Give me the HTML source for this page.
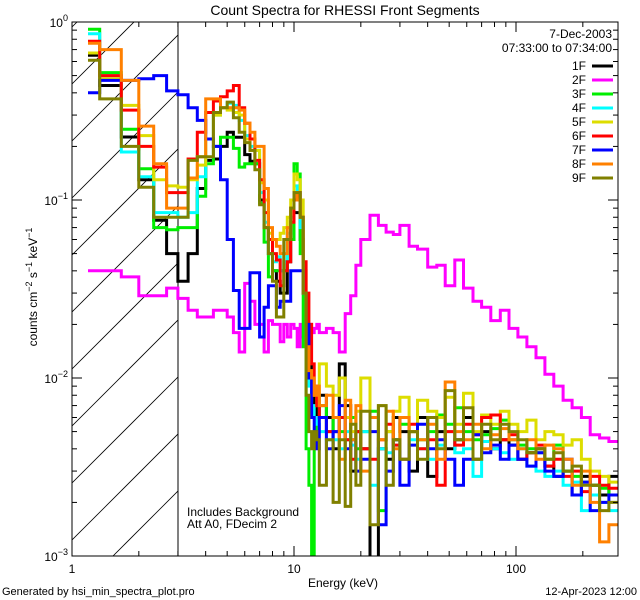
<!DOCTYPE html>
<html><head><meta charset="utf-8">
<style>
html,body{margin:0;padding:0;background:#fff;}
svg{display:block;font-family:"Liberation Sans",sans-serif;}
</style></head>
<body>
<svg id="chart" width="640" height="600" viewBox="0 0 640 600" xmlns="http://www.w3.org/2000/svg">
<defs><clipPath id="plotclip"><rect x="72" y="22" width="546" height="534"/></clipPath></defs>
<rect x="0" y="0" width="640" height="600" fill="#fff"/>
<text x="345" y="15" font-size="14" text-anchor="middle">Count Spectra for RHESSI Front Segments</text>
<g id="hatch" clip-path="url(#plotclip)"></g>
<line x1="178" y1="22" x2="178" y2="556" stroke="#000" stroke-width="1"/>
<g id="series" clip-path="url(#plotclip)"></g>
<g id="axes"></g>
<rect x="72" y="22" width="546" height="534" fill="none" stroke="#000" stroke-width="1"/>
<text transform="translate(37,287) rotate(-90)" font-size="12" text-anchor="middle">counts cm<tspan dy="-5" font-size="9">−2</tspan><tspan dy="5"> s</tspan><tspan dy="-5" font-size="9">−1</tspan><tspan dy="5"> keV</tspan><tspan dy="-5" font-size="9">−1</tspan></text>
<text x="343" y="587" font-size="12" text-anchor="middle">Energy (keV)</text>
<text x="2" y="595" font-size="11">Generated by hsi_min_spectra_plot.pro</text>
<text x="637" y="595" font-size="11" text-anchor="end">12-Apr-2023 12:00</text>
<text x="187" y="516" font-size="12">Includes Background</text>
<text x="187" y="528" font-size="12">Att A0, FDecim 2</text>
<text x="612" y="38" font-size="12" text-anchor="end">7-Dec-2003</text>
<text x="612" y="52" font-size="12" text-anchor="end">07:33:00 to 07:34:00</text>
<g id="legend"></g>
</svg>
<script>
const edges=[1.18,1.333,1.667,2,2.333,2.667,3,3.333,3.667,4,4.333,4.667,5,5.333,5.667,6,6.333,6.667,7,7.333,7.667,8,8.333,8.667,9,9.333,9.667,10,10.333,10.667,11,11.333,11.667,12,12.333,12.667,13,14,15,16,17,18,19,20,22,24,26,28,30,33,36,40,44,48,53,58,64,70,77,85,93,102,112,123,135,148,163,179,197,216,238,262,288];
const seriesNames=["1F","2F","3F","4F","5F","6F","7F","8F","9F"];
const seriesColors=["#000000","#ff00ff","#00ee00","#00ffff","#dddd00","#ff0000","#0000ff","#ff8000","#808000"];
const s1F=[0.65,0.44,0.226,0.13,0.077,0.05,0.035,0.05,0.116,0.167,0.17,0.2,0.24,0.225,0.225,0.18,0.165,0.16,0.1,0.07,0.05,0.04,0.035,0.03,0.03,0.045,0.06,0.085,0.085,0.06,0.03,0.02,0.012,0.009,0.007,0.006,0.008,0.006,
0.004,0.012,0.007,0.003,0.005,0.004,0.0006,0.004,0.0035,0.006,0.005,0.003,0.006,0.0028,0.005,0.004,0.0045,0.006,0.0035,0.005,0.004,0.0045,0.0042,0.0035,0.0038,0.004,0.0032,0.0028,0.003,0.0022,0.0028,0.0025,0.0022,0.0028];
const s2F=[0.04,0.04,0.037,0.029,0.029,0.032,0.028,0.024,0.022,0.022,0.024,0.024,0.022,0.018,0.014,0.034,0.027,0.02,0.02,0.014,0.021,0.02,0.02,0.016,0.02,0.017,0.02,0.019,0.015,0.02,0.017,0.019,0.02,0.018,0.019,0.02,0.018,0.019,
0.018,0.014,0.023,0.029,0.043,0.06,0.082,0.072,0.066,0.064,0.072,0.055,0.053,0.042,0.043,0.033,0.046,0.032,0.027,0.025,0.021,0.024,0.019,0.017,0.015,0.013,0.0105,0.009,0.0075,0.0068,0.006,0.0048,0.0046,0.0044];
const s3F=[0.91,0.52,0.25,0.15,0.07,0.068,0.07,0.07,0.105,0.16,0.2,0.225,0.225,0.195,0.153,0.16,0.16,0.16,0.096,0.058,0.037,0.04,0.04,0.04,0.04,0.06,0.06,0.16,0.14,0.05,0.015,0.004,0.0025,0.0007,0.005,0.006,0.007,0.005,
0.006,0.005,0.0045,0.006,0.004,0.005,0.0065,0.0018,0.005,0.0045,0.0055,0.005,0.0045,0.005,0.0062,0.0055,0.0068,0.005,0.0045,0.0048,0.0052,0.0058,0.0045,0.0042,0.004,0.0038,0.0035,0.0042,0.003,0.0028,0.0026,0.0025,0.0024,0.0022];
const s4F=[0.86,0.5,0.186,0.135,0.085,0.085,0.08,0.085,0.135,0.22,0.3,0.33,0.35,0.34,0.28,0.23,0.2,0.19,0.11,0.075,0.05,0.045,0.048,0.04,0.045,0.065,0.08,0.12,0.11,0.07,0.03,0.015,0.009,0.007,0.006,0.0055,0.005,0.0045,
0.0045,0.004,0.005,0.0042,0.0035,0.005,0.0025,0.004,0.0038,0.0042,0.0035,0.0045,0.004,0.0035,0.0042,0.005,0.0038,0.004,0.0028,0.0044,0.004,0.0038,0.0035,0.004,0.0032,0.003,0.0028,0.003,0.0025,0.0026,0.0018,0.0022,0.002,0.0018];
const s5F=[0.67,0.48,0.34,0.23,0.13,0.12,0.118,0.13,0.157,0.22,0.3,0.33,0.32,0.31,0.3,0.22,0.19,0.19,0.125,0.1,0.065,0.06,0.06,0.065,0.07,0.08,0.1,0.14,0.13,0.1,0.04,0.02,0.01,0.009,0.008,0.007,0.012,0.009,
0.008,0.01,0.006,0.005,0.0065,0.01,0.006,0.007,0.005,0.0065,0.0078,0.005,0.0075,0.0065,0.006,0.0078,0.0055,0.0082,0.005,0.0062,0.0055,0.0065,0.0055,0.005,0.0058,0.0045,0.005,0.0048,0.0042,0.0045,0.0035,0.003,0.0028,0.0026];
const s6F=[0.78,0.5,0.32,0.2,0.153,0.11,0.11,0.17,0.24,0.31,0.36,0.38,0.41,0.44,0.33,0.27,0.22,0.167,0.13,0.085,0.06,0.05,0.046,0.033,0.04,0.045,0.075,0.1,0.11,0.08,0.045,0.03,0.02,0.012,0.009,0.007,0.006,0.005,
0.005,0.006,0.0045,0.0035,0.005,0.004,0.0035,0.0045,0.0055,0.0042,0.0035,0.0055,0.004,0.0045,0.0025,0.005,0.0042,0.0055,0.0048,0.006,0.0062,0.0045,0.0048,0.0035,0.0038,0.0042,0.0032,0.0035,0.0028,0.003,0.0023,0.0028,0.0025,0.0024];
const s7F=[0.4,0.47,0.47,0.48,0.5,0.41,0.39,0.33,0.28,0.22,0.2,0.13,0.06,0.031,0.019,0.019,0.039,0.039,0.017,0.025,0.033,0.033,0.025,0.027,0.027,0.027,0.04,0.04,0.04,0.04,0.03,0.02,0.01,0.006,0.005,0.004,0.006,0.004,
0.005,0.007,0.004,0.0045,0.003,0.0035,0.005,0.0015,0.003,0.0045,0.0025,0.0042,0.0055,0.004,0.0045,0.0035,0.0025,0.0035,0.0048,0.0038,0.0042,0.0035,0.0042,0.0035,0.0032,0.0038,0.003,0.0028,0.0035,0.0022,0.0026,0.0018,0.002,0.0022];
const s8F=[0.76,0.7,0.47,0.26,0.16,0.09,0.09,0.133,0.175,0.37,0.37,0.33,0.33,0.33,0.32,0.27,0.24,0.2,0.2,0.116,0.07,0.06,0.055,0.05,0.05,0.07,0.09,0.11,0.1,0.08,0.03,0.015,0.011,0.01,0.008,0.009,0.007,0.008,
0.006,0.0035,0.0075,0.0045,0.007,0.003,0.006,0.0045,0.0065,0.004,0.006,0.005,0.0045,0.0055,0.0035,0.0095,0.005,0.0045,0.0055,0.004,0.0048,0.0052,0.0045,0.004,0.0045,0.0035,0.0042,0.004,0.0035,0.0025,0.003,0.002,0.0012,0.0015];
const s9F=[0.61,0.37,0.2,0.118,0.08,0.08,0.08,0.167,0.175,0.175,0.31,0.33,0.355,0.29,0.24,0.21,0.19,0.148,0.094,0.07,0.05,0.035,0.022,0.022,0.06,0.06,0.09,0.11,0.11,0.08,0.03,0.008,0.005,0.004,0.005,0.0045,0.0025,0.0045,
0.002,0.0045,0.0019,0.0055,0.0025,0.0065,0.0015,0.007,0.0025,0.0045,0.0035,0.005,0.0035,0.006,0.004,0.0085,0.0045,0.0068,0.0035,0.0055,0.0045,0.0055,0.005,0.0045,0.0038,0.004,0.0035,0.0038,0.003,0.0032,0.0025,0.0025,0.0018,0.002];
const allSeries=[s1F,s2F,s3F,s4F,s5F,s6F,s7F,s8F,s9F];
const yTickExps=[0,-1,-2,-3];
const yTickLabels=["0","−1","−2","−3"];
const xTickValues=[1,10,100];
const xTickLabels=["1","10","100"];

const NS="http://www.w3.org/2000/svg";
const X0=72,X1=618,Y0=22,Y1=556,DEC_X=222,DEC_Y=178;
function xScale(e){return X0+DEC_X*Math.log10(e);}
function yScale(v){return Y0-DEC_Y*Math.log10(v);}
function mk(tag,attrs,parent){const el=document.createElementNS(NS,tag);for(const k in attrs)el.setAttribute(k,attrs[k]);parent.appendChild(el);return el;}

// hatch
const hatch=document.getElementById('hatch');
const xh=xScale(3);
for(let c=27-57*3;c<600;c+=57){
  const l=mk('line',{x1:X0,y1:c,x2:xh,y2:c-(xh-X0),stroke:'#000','stroke-width':0.8},hatch);
  
  
}

// series
const sg=document.getElementById('series');
allSeries.forEach((vals,si)=>{
  let d='';
  for(let i=0;i<vals.length;i++){
    const xa=xScale(edges[i]).toFixed(1),xb=xScale(edges[i+1]).toFixed(1),y=Math.min(yScale(vals[i]),Y1+20).toFixed(1);
    d+=(i===0?'M':'L')+xa+','+y+'L'+xb+','+y;
  }
  const p=mk('path',{d:d,fill:'none',stroke:seriesColors[si],'stroke-width':3,'stroke-linejoin':'miter'},sg);
  
  
});

// axes ticks
const ax=document.getElementById('axes');
yTickExps.forEach((ex,i)=>{
  const y=yScale(Math.pow(10,ex));
  const t=mk('line',{x1:X0,y1:y,x2:X0+10,y2:y,stroke:'#000'},ax);
  
  
  const t2=mk('line',{x1:X1-10,y1:y,x2:X1,y2:y,stroke:'#000'},ax);
  
  
  const tx=mk('text',{x:X0-4,y:y+5,'font-size':12,'text-anchor':'end'},ax);
  tx.innerHTML='10<tspan dy="-6" font-size="9">'+yTickLabels[i]+'</tspan>';
  
  
  if(ex>-3){for(let m=2;m<=9;m++){
    const ym=yScale(Math.pow(10,ex-1)*m);
    const a=mk('line',{x1:X0,y1:ym,x2:X0+5,y2:ym,stroke:'#000'},ax);
    
    
    const b=mk('line',{x1:X1-5,y1:ym,x2:X1,y2:ym,stroke:'#000'},ax);
    
    
  }}
});
xTickValues.forEach((v,i)=>{
  const x=xScale(v);
  const a=mk('line',{x1:x,y1:Y1,x2:x,y2:Y1-10,stroke:'#000'},ax);
  
  
  const b=mk('line',{x1:x,y1:Y0,x2:x,y2:Y0+10,stroke:'#000'},ax);
  
  
  const tx=mk('text',{x:x,y:Y1+17,'font-size':12,'text-anchor':'middle'},ax);
  tx.textContent=xTickLabels[i];
  
  
  for(let m=2;m<=9;m++){
    const xm=xScale(v*m);
    if(xm>X1)break;
    const c=mk('line',{x1:xm,y1:Y1,x2:xm,y2:Y1-5,stroke:'#000'},ax);
    
    
    const d=mk('line',{x1:xm,y1:Y0,x2:xm,y2:Y0+5,stroke:'#000'},ax);
    
    
  }
});

// legend
const lg=document.getElementById('legend');
seriesNames.forEach((n,i)=>{
  const y=66+14*i;
  const t=mk('text',{x:586,y:y+4,'font-size':12,'text-anchor':'end'},lg);
  t.textContent=n;
  
  
  const l=mk('line',{x1:592,y1:y,x2:613,y2:y,stroke:seriesColors[i],'stroke-width':3},lg);
  
  
});
</script>
</body></html>
